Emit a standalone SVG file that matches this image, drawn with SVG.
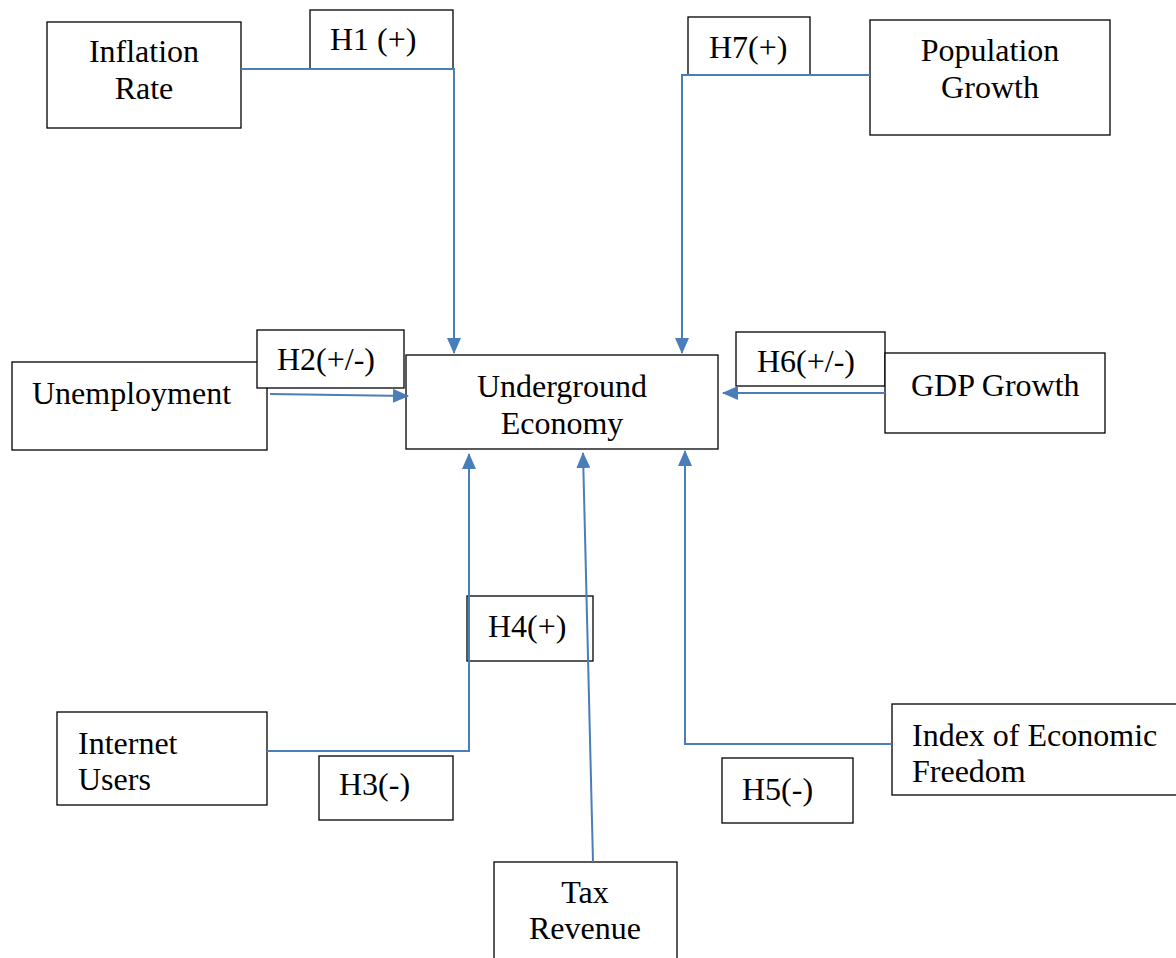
<svg xmlns="http://www.w3.org/2000/svg" width="1176" height="958" viewBox="0 0 1176 958">
<defs>
<style>
.box{fill:#fff;stroke:#000;stroke-width:1.3}
.t{font-family:"Liberation Serif","Times New Roman",serif;font-size:32px;fill:#000}
.c{text-anchor:middle}
.ln{fill:none;stroke:#4a7ebb;stroke-width:2}
</style>
<marker id="ah" markerUnits="userSpaceOnUse" markerWidth="16" markerHeight="14" refX="15" refY="7" orient="auto">
<path d="M0,0 L16,7 L0,14 Z" fill="#4a7ebb"/>
</marker>
</defs>
<rect width="1176" height="958" fill="#fff"/>
<g id="inflation"><rect class="box" x="47" y="22" width="194" height="106"/><text class="t c" x="144" y="62">Inflation</text><text class="t c" x="144" y="99">Rate</text></g>
<g id="h1"><rect class="box" x="310" y="10" width="143" height="59"/><text class="t" x="330" y="50">H1 (+)</text></g>
<g id="h7"><rect class="box" x="688" y="17" width="122" height="58"/><text class="t" x="709" y="58">H7(+)</text></g>
<g id="population"><rect class="box" x="870" y="20" width="240" height="115"/><text class="t c" x="990" y="61">Population</text><text class="t c" x="990" y="98">Growth</text></g>
<g id="unemployment"><rect class="box" x="12" y="362" width="255" height="88"/><text class="t" x="32" y="404">Unemployment</text></g>
<g id="h2"><rect class="box" x="257" y="330" width="147" height="58"/><text class="t" x="277" y="370">H2(+/-)</text></g>
<g id="underground"><rect class="box" x="406" y="355" width="312" height="94"/><text class="t c" x="562" y="397">Underground</text><text class="t c" x="562" y="434">Economy</text></g>
<g id="h6"><rect class="box" x="736" y="332" width="149" height="54"/><text class="t" x="757" y="372">H6(+/-)</text></g>
<g id="gdp"><rect class="box" x="885" y="353" width="220" height="80"/><text class="t" x="911" y="396">GDP Growth</text></g>
<g id="internet"><rect class="box" x="57" y="712" width="210" height="93"/><text class="t" x="78" y="754">Internet</text><text class="t" x="78" y="790">Users</text></g>
<g id="h4"><rect class="box" x="467" y="596" width="126" height="65"/><text class="t" x="488" y="637">H4(+)</text></g>
<g id="h3"><rect class="box" x="319" y="756" width="134" height="64"/><text class="t" x="339" y="795">H3(-)</text></g>
<g id="tax"><rect class="box" x="494" y="862" width="183" height="100"/><text class="t c" x="585" y="903">Tax</text><text class="t c" x="585" y="939">Revenue</text></g>
<g id="freedom"><rect class="box" x="892" y="704" width="290" height="91"/><text class="t" x="912" y="746">Index of Economic</text><text class="t" x="912" y="782">Freedom</text></g>
<g id="h5"><rect class="box" x="722" y="758" width="131" height="65"/><text class="t" x="742" y="800">H5(-)</text></g>
<g id="connectors">
<path class="ln" d="M241,69 H454 V353" marker-end="url(#ah)"/>
<path class="ln" d="M870,75 H682 V353" marker-end="url(#ah)"/>
<path class="ln" d="M270,394 L408,396" marker-end="url(#ah)"/>
<path class="ln" d="M885,393 H723" marker-end="url(#ah)"/>
<path class="ln" d="M267,751 H469 V454" marker-end="url(#ah)"/>
<path class="ln" d="M593,862 L583,453" marker-end="url(#ah)"/>
<path class="ln" d="M892,744 H685 V451" marker-end="url(#ah)"/>
</g>
</svg>
